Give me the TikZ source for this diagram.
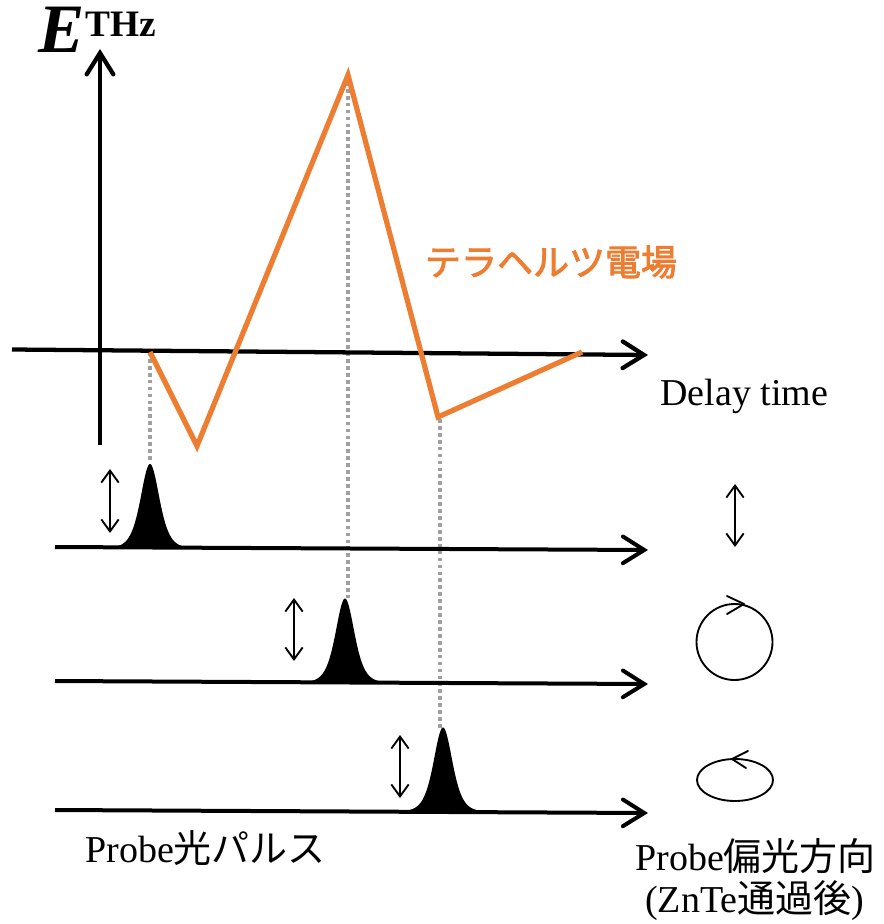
\documentclass[tikz,border=0pt]{standalone}
\usepackage{fontspec}
\setmainfont{Liberation Serif}
\newfontfamily\jp{Noto Sans CJK JP}
\newfontfamily\jpb[FakeBold=2.5]{Noto Sans CJK JP}
\usetikzlibrary{arrows.meta}
\definecolor{thzorange}{RGB}{237,125,49}
\definecolor{dotgray}{RGB}{160,160,160}
\tikzset{
  axis/.style={line width=3.2pt,-{Straight Barb[length=16pt,width=20pt,line cap=round]}},
  baseaxis/.style={line width=3pt,-{Straight Barb[length=16pt,width=20pt,line cap=round]}},
  pol/.style={line width=1.4pt,{Straight Barb[length=9pt,width=13pt]}-{Straight Barb[length=9pt,width=13pt]}},
  ring/.style={line width=1.4pt},
  thz/.style={line width=3.9pt,thzorange,line join=miter},
  guide/.style={line width=2.6pt,dotgray,dash pattern=on 2.8pt off 2.4pt},
  lab/.style={inner sep=0pt,font=\fontsize{28.5pt}{30pt}\selectfont},
  pulse/.pic={\fill[black] plot[domain=-34:34,samples=70,smooth] (\x,{-84/(cosh(\x/12.5))^2}) -- cycle;}
}
\begin{document}
\begin{tikzpicture}[x=0.75pt,y=-0.75pt]
\useasboundingbox (0,0) rectangle (884,924);
% coordinates
\coordinate (yb) at (100,445);
\coordinate (yt) at (100,49);
\coordinate (xl) at (12,349.5);
\coordinate (xr) at (648,355);
\coordinate (b1l) at (55,547);
\coordinate (b1r) at (648,550);
\coordinate (b2l) at (55,681);
\coordinate (b2r) at (648,684);
\coordinate (b3l) at (55,810);
\coordinate (b3r) at (648,813);
% THz field
\coordinate (t0) at (150,352);
\coordinate (t1) at (197,446);
\coordinate (t2) at (348,75);
\coordinate (t3) at (438,417);
\coordinate (t4) at (582,352);
% guides
\coordinate (g1) at (150,460);
\coordinate (g2) at (348,598);
\coordinate (g3) at (440,730);
\coordinate (g3t) at (440,419);
\draw[guide] (t0) -- (g1);
\draw[guide] (t2) -- (g2);
\draw[guide] (g3t) -- (g3);
% axes
\draw[axis] (yb) -- (yt);
\draw[axis] (xl) -- (xr);
\draw[thz] (t0) -- (t1) -- (t2) -- (t3) -- (t4);
% baselines
\draw[baseaxis] (b1l) -- (b1r);
\draw[baseaxis] (b2l) -- (b2r);
\draw[baseaxis] (b3l) -- (b3r);
% pulses
\pic at (150,548) {pulse};
\pic at (345,682.5) {pulse};
\pic at (443,811.5) {pulse};
% polarisation arrows
\draw[pol] (110,469) -- (110,533);
\draw[pol] (294,598) -- (294,661);
\draw[pol] (400,735) -- (400,798);
\draw[pol] (735,484) -- (735,547);
% circle
\draw[ring] (734.5,642) circle[radius=38];
\draw[ring,line cap=round,line join=round] (727,596) -- (744,604) -- (727,614);
% ellipse
\draw[ring] (735,780) ellipse[x radius=38,y radius=21];
\draw[ring,line cap=round,line join=round] (748,751) -- (732,759) -- (746,768);
% labels
\node[inner sep=0pt,anchor=base west,font=\fontsize{52pt}{53pt}\selectfont\bfseries\itshape] (E) at (38,53) {E};
\node[inner sep=0pt,anchor=base west,font=\fontsize{28pt}{29pt}\selectfont\bfseries] (THz) at (85,37) {THz};
\node[inner sep=0pt,text=thzorange,font=\fontsize{27pt}{28pt}\selectfont\jpb] (thzlab) at (551,262) {テラヘルツ電場};
\node[lab,anchor=base west] (delay) at (660,405) {Delay time};
\node[lab,anchor=base west] (probe) at (85,862) {Probe{\jp 光パルス}};
\node[lab,anchor=base west] (pol1) at (635,870) {Probe{\jp 偏光方向}};
\node[lab,anchor=base west] (pol2) at (645,912) {(ZnTe{\jp 通過後})};
\end{tikzpicture}
\end{document}
